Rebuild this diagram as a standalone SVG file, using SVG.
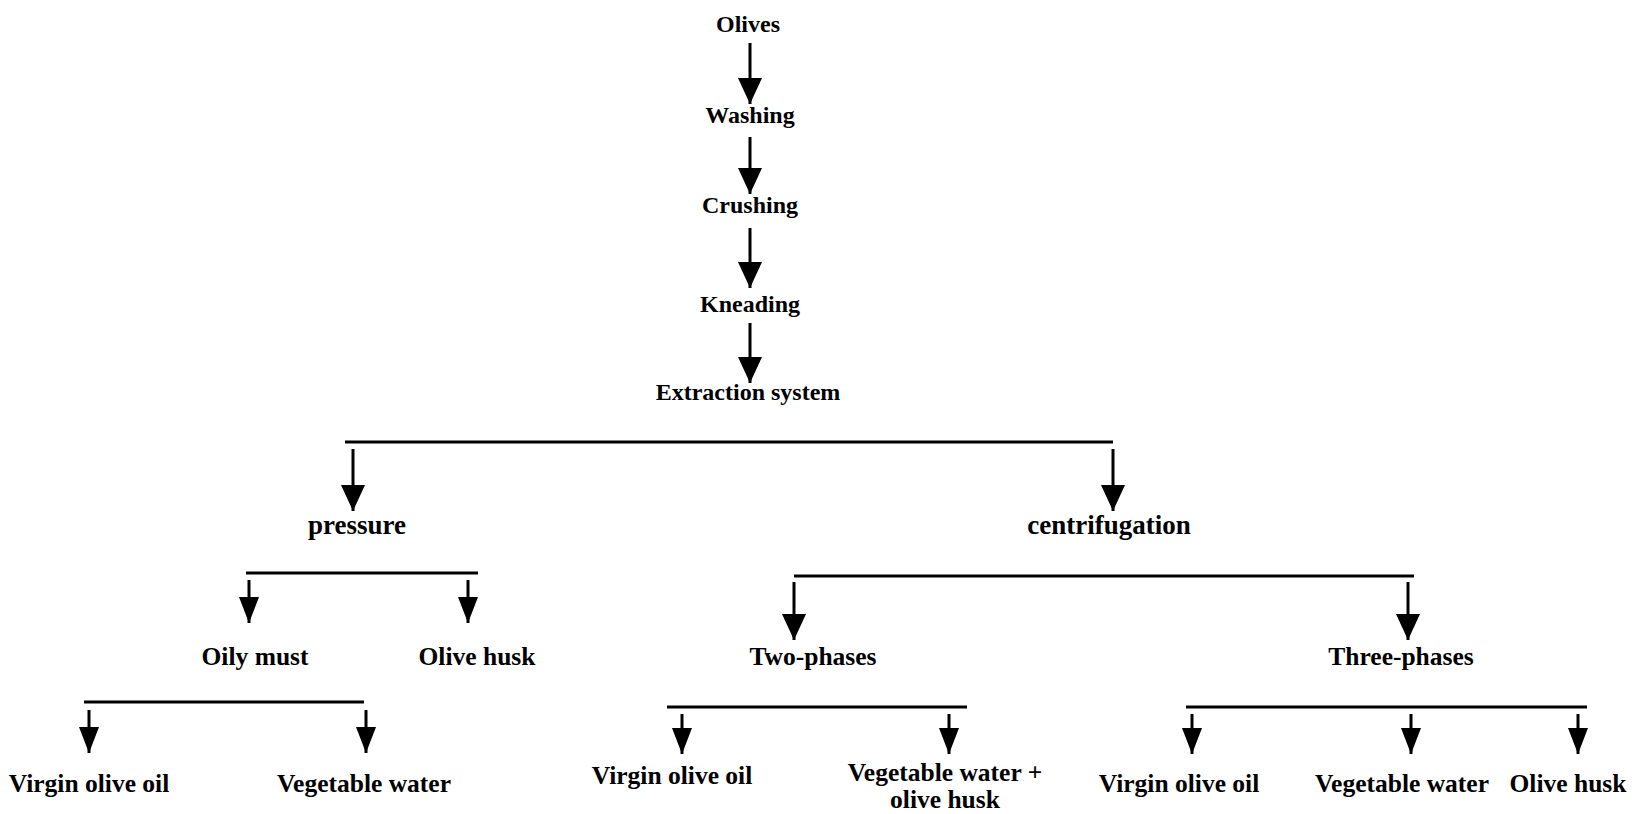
<svg xmlns="http://www.w3.org/2000/svg" width="1639" height="814" viewBox="0 0 1639 814">
<style>
text{font-family:"Liberation Serif","Times New Roman",serif;font-weight:bold;font-size:24px;fill:#000;text-anchor:middle}
.big{font-size:27px}
.mid{font-size:25.5px}
.ln{stroke:#000;stroke-width:3;fill:none}
.ar{stroke:#000;stroke-width:3;fill:none;marker-end:url(#ah)}
.ar2{stroke:#000;stroke-width:3;fill:none;marker-end:url(#ah2)}
</style>
<defs>
<marker id="ah" markerUnits="userSpaceOnUse" markerWidth="28" markerHeight="24" refX="26" refY="12" orient="auto"><path d="M0,0 L26,12 L0,24 z" fill="#000"/></marker>
<marker id="ah2" markerUnits="userSpaceOnUse" markerWidth="28" markerHeight="20" refX="26" refY="10" orient="auto"><path d="M0,0 L26,10 L0,20 z" fill="#000"/></marker>
</defs>
<rect width="1639" height="814" fill="#fff"/>
<g id="connectors">
<path class="ar" d="M750,43 V104"/>
<path class="ar" d="M750,137 V194"/>
<path class="ar" d="M750,228 V288"/>
<path class="ar" d="M750,323 V383"/>
<path class="ln" d="M345,442 H1113"/>
<path class="ar" d="M353,449 V511"/>
<path class="ar" d="M1113,449 V511"/>
<path class="ln" d="M246,573 H478"/>
<path class="ar2" d="M249,580 V623"/>
<path class="ar2" d="M468,580 V623"/>
<path class="ln" d="M84,702 H364"/>
<path class="ar2" d="M89,710 V753"/>
<path class="ar2" d="M366,710 V753"/>
<path class="ln" d="M794,576 H1414"/>
<path class="ar" d="M794,582 V640"/>
<path class="ar" d="M1408,582 V640"/>
<path class="ln" d="M667,707 H967"/>
<path class="ar2" d="M682,714 V754"/>
<path class="ar2" d="M949,714 V754"/>
<path class="ln" d="M1186,707 H1587"/>
<path class="ar2" d="M1192,714 V754"/>
<path class="ar2" d="M1411,714 V754"/>
<path class="ar2" d="M1578,714 V754"/>
</g>
<g id="olives"><text x="748" y="32">Olives</text></g>
<g id="washing"><text x="750" y="123">Washing</text></g>
<g id="crushing"><text x="750" y="213">Crushing</text></g>
<g id="kneading"><text x="750" y="312">Kneading</text></g>
<g id="extraction"><text x="748" y="400">Extraction system</text></g>
<g id="pressure"><text class="big" x="357" y="534">pressure</text></g>
<g id="centrifugation"><text class="big" x="1109" y="534">centrifugation</text></g>
<g id="oily-must"><text class="mid" x="255" y="665">Oily must</text></g>
<g id="olive-husk-p"><text class="mid" x="477" y="665">Olive husk</text></g>
<g id="voo-p"><text class="mid" x="89" y="792">Virgin olive oil</text></g>
<g id="vw-p"><text class="mid" x="364" y="792">Vegetable water</text></g>
<g id="two-phases"><text class="mid" x="813" y="665">Two-phases</text></g>
<g id="three-phases"><text class="mid" x="1401" y="665">Three-phases</text></g>
<g id="voo-2"><text class="mid" x="672" y="784">Virgin olive oil</text></g>
<g id="vw-oh-2"><text class="mid" x="945" y="781">Vegetable water +</text><text class="mid" x="945" y="808">olive husk</text></g>
<g id="voo-3"><text class="mid" x="1179" y="792">Virgin olive oil</text></g>
<g id="vw-3"><text class="mid" x="1402" y="792">Vegetable water</text></g>
<g id="oh-3"><text class="mid" x="1568" y="792">Olive husk</text></g>
</svg>
